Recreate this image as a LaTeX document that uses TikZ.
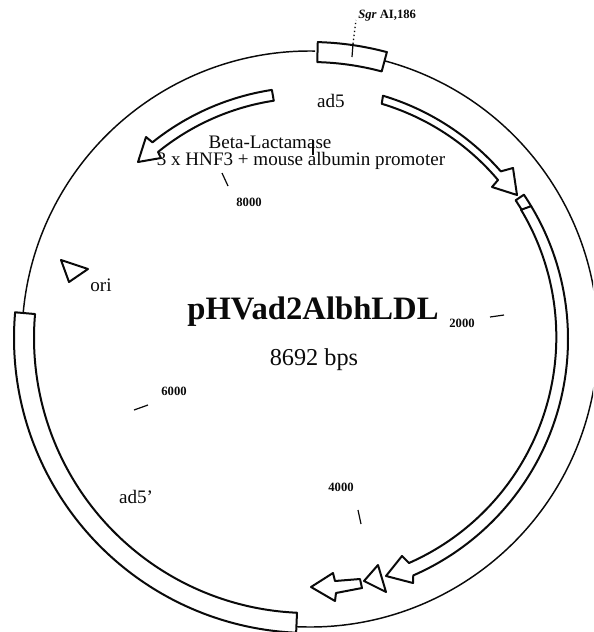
\documentclass[tikz,border=0pt]{standalone}
\usepackage{fontspec}
\setmainfont{Liberation Serif}
\usetikzlibrary{calc, positioning}
\definecolor{inkdark}{HTML}{0A0A0A}
\tikzset{
  % Plasmid backbone and features
  backbone/.style={draw=inkdark, line width=1.1pt},
  feature/.style={draw=inkdark, fill=white, line width=1.5pt, line join=round},
  tickmark/.style={draw=inkdark, line width=0.9pt},
  sitedots/.style={draw=inkdark, line width=1pt, dotted},
  % Labels
  namelabel/.style={font=\fontsize{24.5}{25}\selectfont\bfseries, text=inkdark, inner sep=0pt},
  sizelabel/.style={font=\fontsize{18.2}{19}\selectfont, text=inkdark, inner sep=0pt},
  genelabel/.style={font=\fontsize{14.3}{15}\selectfont, text=inkdark, inner sep=0pt},
  poslabel/.style={font=\fontsize{9.5}{10}\selectfont\bfseries, text=inkdark, inner sep=0pt},
}
\begin{document}
\begin{tikzpicture}[x=0.75pt, y=0.75pt]
    \useasboundingbox (0,0) rectangle (593,-632);
    \clip (0,0) rectangle (593,-632);
    \coordinate (c) at (310,-339);
    \coordinate (b) at (309,-338);
    % Backbone in two pieces, between the boxes
    \draw[backbone] ($(c)+(89:288)$) arc[start angle=89, end angle=175, radius=288];
    \draw[backbone] ($(c)+(75:288)$) arc[start angle=75, end angle=-93, radius=288];
    % Boxes on the backbone
    \draw[feature] ($(c)+(88.5:297)$) arc[start angle=88.5, end angle=75, radius=297]
      -- ($(c)+(75:277)$) arc[start angle=75, end angle=88.5, radius=277] -- cycle;
    \draw[feature] ($(b)+(175:295)$) arc[start angle=175, end angle=267.5, radius=295]
      -- ($(b)+(267.5:275)$) arc[start angle=267.5, end angle=175, radius=275] -- cycle;
    % Right hand band
    \draw[feature] ($(c)+(34:258)$) arc[start angle=34, end angle=31, radius=258]
      -- ($(c)+(31:248)$) arc[start angle=31, end angle=34, radius=248] -- cycle;
    \draw[feature] ($(c)+(31:258)$) arc[start angle=31, end angle=-66.4, radius=258]
      -- (413,-583) -- (386,-576) -- (402,-556) -- (409,-563)
      arc[start angle=-66.2, end angle=31, radius=247] -- cycle;
    % Upper arrows
    \draw[feature] ($(c)+(73.3:254)$) arc[start angle=73.3, end angle=41.3, radius=254]
      -- (513,-168) -- (517,-195) -- (492,-187) -- (498,-180)
      arc[start angle=40.2, end angle=73.3, radius=244] -- cycle;
    \draw[feature] ($(c)+(98.7:252)$) arc[start angle=98.7, end angle=128.7, radius=252]
      -- (146,-137) -- (138,-162) -- (161,-158) -- (158,-152)
      arc[start angle=129.1, end angle=98.7, radius=241.5] -- cycle;
    % Small arrow and triangles
    \draw[feature] (311,-587) -- (333,-573) -- (335,-581) -- (360,-579) -- (362,-588)
      -- (336,-593) -- (335,-601) -- cycle;
    \draw[feature] (364,-581) -- (378,-565) -- (386,-592) -- cycle;
    \draw[feature] (61,-260) -- (88,-269) -- (69,-282) -- cycle;
    % Ticks
    \draw[tickmark] (222,-173) -- (228,-186);
    \draw[tickmark] (490,-317) -- (504,-315);
    \draw[tickmark] (134,-410) -- (148,-405);
    \draw[tickmark] (358,-510) -- (361,-524);
    \draw[tickmark] (313,-140) -- (313,-155);
    \draw[tickmark] (353,-44) -- (352,-57);
    \draw[sitedots] (353,-44) -- (356,-20);
    % Labels
    \node[namelabel] (name) at (313,-312) {pHVad2AlbhLDL};
    \node[sizelabel] (size) at (314,-360) {8692 bps};
    \node[genelabel] (adfive) at (331,-101) {ad5};
    \node[genelabel] (adfiveprime) at (136,-497) {ad5'};
    \node[genelabel] (ori) at (101,-285) {ori};
    \node[genelabel] (lactamase) at (270,-142) {Beta-Lactamase};
    \node[genelabel] (promoter) at (301,-160.5) {3 x HNF3 + mouse albumin promoter};
    \node[poslabel] (pos8000) at (249,-202) {8000};
    \node[poslabel] (pos2000) at (462,-323) {2000};
    \node[poslabel] (pos6000) at (174,-391) {6000};
    \node[poslabel] (pos4000) at (341,-487) {4000};
    \node[poslabel, anchor=west] (site) at (358,-15.5) {\textit{Sgr} AI,186};
  \end{tikzpicture}
\end{document}
